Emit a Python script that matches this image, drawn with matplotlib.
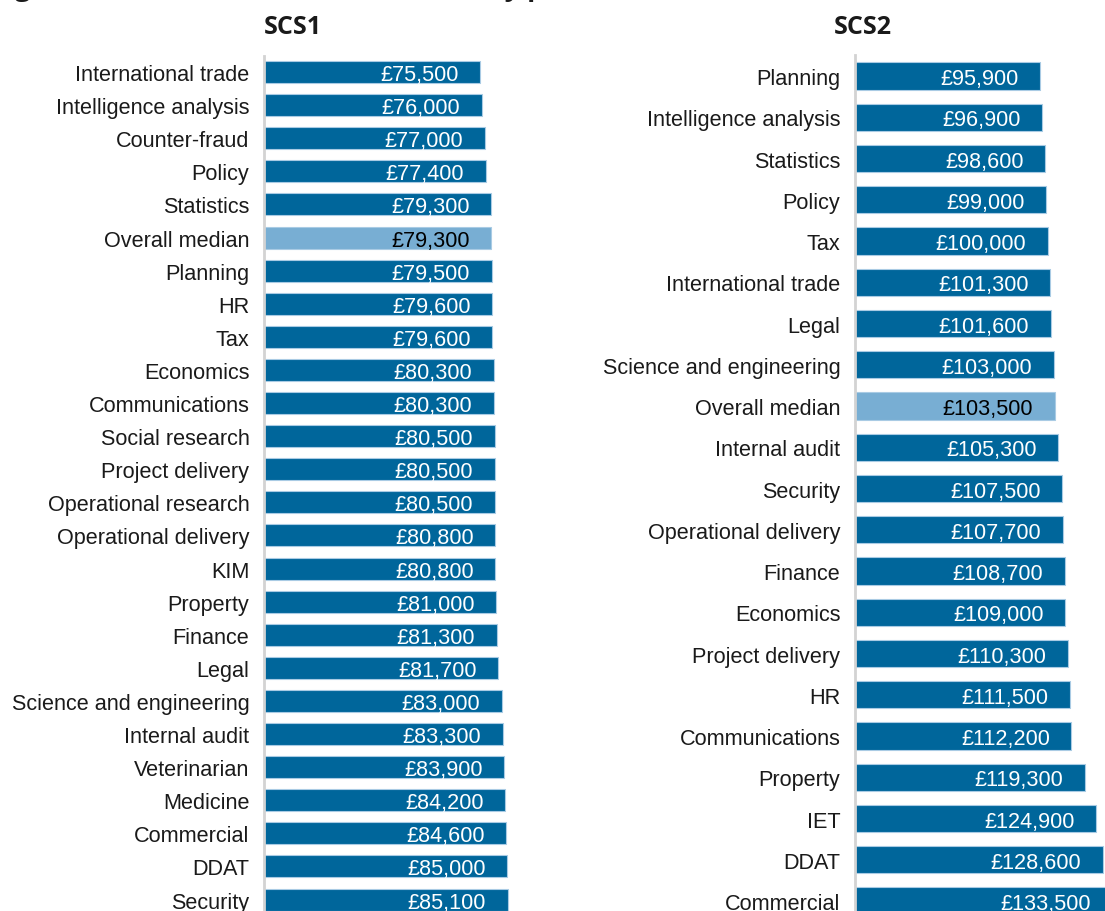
import matplotlib
matplotlib.use("Agg")
import matplotlib.pyplot as plt

scs1_categories = ["International trade", "Intelligence analysis", "Counter-fraud", "Policy",
                   "Statistics", "Overall median", "Planning", "HR", "Tax", "Economics",
                   "Communications", "Social research", "Project delivery", "Operational research",
                   "Operational delivery", "KIM", "Property", "Finance", "Legal",
                   "Science and engineering", "Internal audit", "Veterinarian", "Medicine",
                   "Commercial", "DDAT", "Security"]
scs1_values = [75500, 76000, 77000, 77400, 79300, 79300, 79500, 79600, 79600, 80300,
               80300, 80500, 80500, 80500, 80800, 80800, 81000, 81300, 81700,
               83000, 83300, 83900, 84200, 84600, 85000, 85100]

scs2_categories = ["Planning", "Intelligence analysis", "Statistics", "Policy", "Tax",
                   "International trade", "Legal", "Science and engineering", "Overall median",
                   "Internal audit", "Security", "Operational delivery", "Finance", "Economics",
                   "Project delivery", "HR", "Communications", "Property", "IET", "DDAT",
                   "Commercial"]
scs2_values = [95900, 96900, 98600, 99000, 100000, 101300, 101600, 103000, 103500,
               105300, 107500, 107700, 108700, 109000, 110300, 111500, 112200, 119300,
               124900, 128600, 133500]

title_before = "Figure 12: Median salaries in the SCS by "
title_after = "profession, SCS1 and SCS2"

DARK = "#00669b"
LIGHT = "#78aed3"
EDGE = "#a9cbe4"
FONT = "Liberation Sans"
TFONT = "Open Sans"

W, H = 1105, 912
fig = plt.figure(figsize=(W / 100, H / 100), dpi=100)
fig.patch.set_facecolor("white")


def panel(left_px, top_px, row_px, n, xmax, px_per_unit, cats, vals, title, title_x):
    height_px = row_px * n
    width_px = xmax * px_per_unit
    ax = fig.add_axes([left_px / W, 1 - (top_px + height_px) / H, width_px / W, height_px / H])
    y = list(range(n))
    colors = [LIGHT if c == "Overall median" else DARK for c in cats]
    ax.barh(y, vals, height=0.665, color=colors, edgecolor=EDGE, linewidth=0.8)
    ax.set_ylim(n - 0.5, -0.5)
    ax.set_xlim(0, xmax)
    ax.set_yticks(y)
    ax.set_yticklabels(cats, fontsize=15.6, fontfamily=FONT, color="#1a1a1a")
    ax.tick_params(axis="y", length=0, pad=10.5)
    ax.set_xticks([])
    for s in ["top", "right", "bottom"]:
        ax.spines[s].set_visible(False)
    ax.spines["left"].set_color("#d3d3d3")
    ax.spines["left"].set_linewidth(2.0)
    ax.set_facecolor("none")
    for yi, v, c in zip(y, vals, cats):
        tc = "black" if c == "Overall median" else "white"
        ax.annotate(f"\u00a3{v:,}", xy=(v, yi), xytext=(-15.5, 0), textcoords="offset points",
                    ha="right", va="center_baseline", fontsize=15.6, fontfamily=FONT, color=tc)
    fig.text(title_x / W, 1 - 27 / H, title, ha="center", va="center",
             fontsize=18, fontweight="bold", fontfamily=TFONT, color="#1a1a1a")
    return ax


panel(264, 56.5, 33.1, len(scs1_categories), 90000, 0.002864,
      scs1_categories, scs1_values, "SCS1", 293)
panel(855, 56.4, 41.25, len(scs2_categories), 140000, 0.001928,
      scs2_categories, scs2_values, "SCS2", 863)

# Figure title: it sits above the visible crop, so only its descenders show.
renderer = fig.canvas.get_renderer()


def text_width(s, size):
    t = fig.text(0, 0, s, fontsize=size, fontweight="bold", fontfamily=TFONT)
    wpx = t.get_window_extent(renderer).width
    t.remove()
    return wpx


s0 = 20.0
dg = text_width("Fi", s0)
dp = text_width(title_before + "p", s0) - text_width("p", s0)
size = s0 * (528 - 15) / (dp - dg)
x0 = 15 - dg * size / s0
fig.text(x0 / W, 1 + 4.0 / H, title_before + title_after, ha="left", va="baseline",
         fontsize=size, fontweight="bold", fontfamily=TFONT, color="#1a1a1a")

fig.savefig("out.png", dpi=100, facecolor="white")
